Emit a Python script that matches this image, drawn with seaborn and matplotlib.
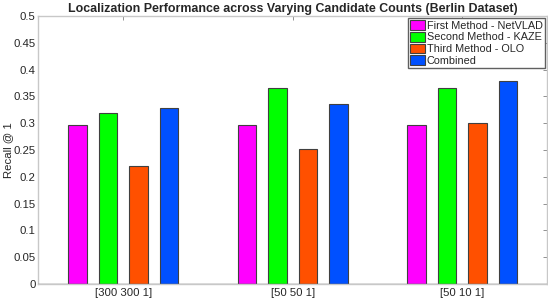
import pandas as pd
import matplotlib
matplotlib.use("Agg")
import matplotlib.pyplot as plt
import seaborn as sns

# Candidate count settings and recall values per method
settings = ["[300 300 1]", "[50 50 1]", "[50 10 1]"]
methods = ["First Method - NetVLAD", "Second Method - KAZE", "Third Method - OLO", "Combined"]
netvlad = [0.297, 0.297, 0.297]
kaze = [0.319, 0.365, 0.365]
olo = [0.220, 0.251, 0.301]
combined = [0.329, 0.336, 0.379]
colors = ["#ff00ff", "#00ff00", "#ff5000", "#0050ff"]

rows = []
for m, vals in zip(methods, [netvlad, kaze, olo, combined]):
    for s, v in zip(settings, vals):
        rows.append({"Setting": s, "Method": m, "Recall": v})
df = pd.DataFrame(rows)

sns.set_style("white")
plt.rcParams["font.family"] = ["Liberation Sans", "DejaVu Sans"]

fig, ax = plt.subplots(figsize=(5.48, 3.0), dpi=100)
fig.subplots_adjust(left=0.07, right=0.998, top=0.947, bottom=0.053)

sns.barplot(data=df, x="Setting", y="Recall", hue="Method", order=settings,
            hue_order=methods, palette=colors, saturation=1, width=0.72, gap=0.4,
            edgecolor="#404040", linewidth=0.8, ax=ax)

ax.set_xlim(-0.5, 2.5)
ax.set_ylim(0, 0.5)
ax.set_yticks([0, 0.05, 0.1, 0.15, 0.2, 0.25, 0.3, 0.35, 0.4, 0.45, 0.5])
ax.set_yticklabels(["0", "0.05", "0.1", "0.15", "0.2", "0.25", "0.3", "0.35", "0.4", "0.45", "0.5"])
ax.tick_params(axis="both", direction="in", length=3, width=0.6, color="#808080",
               labelsize=8.2, labelcolor="#262626", top=True, right=True, pad=2)
ax.tick_params(axis="x", pad=3)
for sp in ax.spines.values():
    sp.set_color("#c8c8c8")
    sp.set_linewidth(1.0)
ax.axhline(0, color="#262626", linewidth=0.9, zorder=5)

ax.set_xlabel("")
ax.set_ylabel("Recall @ 1", fontsize=8.2, color="#262626", labelpad=0)
ax.set_title("Localization Performance across Varying Candidate Counts (Berlin Dataset)",
             fontsize=8.9, fontweight="bold", pad=3)

ax.legend(loc="upper right", fontsize=7.8, frameon=True, fancybox=False,
          edgecolor="#606060", borderaxespad=0.15, handlelength=1.3,
          handleheight=1.0, handletextpad=0.2, labelspacing=0.1,
          borderpad=0.25, framealpha=1)

plt.savefig("out.png", dpi=100)
